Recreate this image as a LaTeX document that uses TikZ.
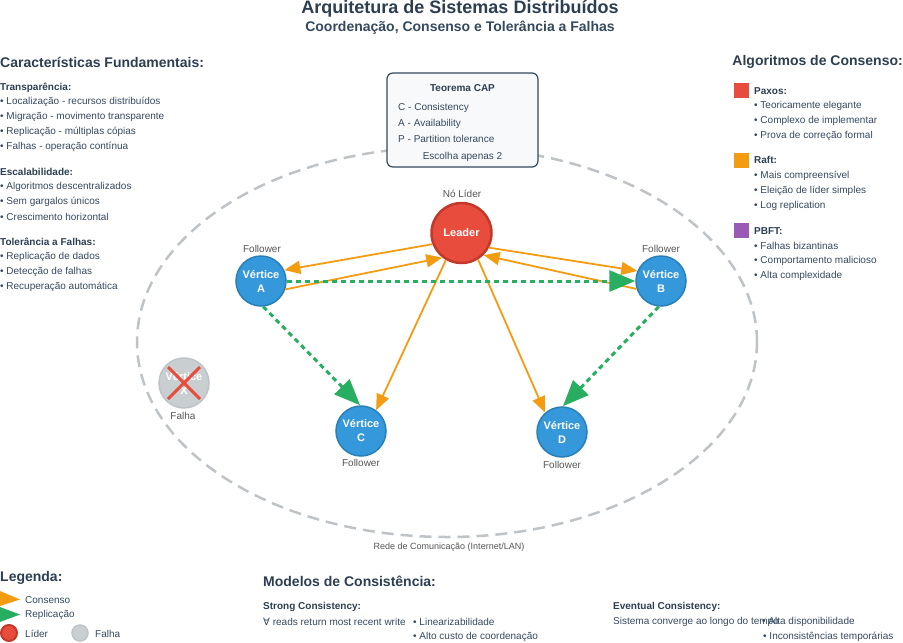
\documentclass[tikz,border=0pt]{standalone}
\usepackage{fontspec}
\setmainfont{Liberation Sans}
\newfontfamily\symfont{DejaVu Sans}
\usetikzlibrary{arrows.meta,calc}
\definecolor{slate}{HTML}{2C3E50}
\definecolor{slate2}{HTML}{34495E}
\definecolor{gray5}{HTML}{555555}
\definecolor{lred}{HTML}{E74C3C}
\definecolor{dred}{HTML}{C0392B}
\definecolor{lblue}{HTML}{3498DB}
\definecolor{dblue}{HTML}{2980B9}
\definecolor{orng}{HTML}{F39C12}
\definecolor{grn}{HTML}{27AE60}
\definecolor{purp}{HTML}{9B59B6}
\definecolor{lgray}{HTML}{BDC3C7}
\definecolor{xgray}{HTML}{C9CFD1}
\definecolor{capfill}{HTML}{F8F9FA}
\pgfdeclarelayer{bg}
\pgfsetlayers{bg,main}
\begin{document}
\begin{tikzpicture}[x=1pt,y=-1pt,
  ttl/.style={font=\fontsize{18}{22}\selectfont\bfseries,text=slate,inner sep=0pt},
  subttl/.style={font=\fontsize{14}{17}\selectfont\bfseries,text=slate2,inner sep=0pt},
  sec/.style={anchor=west,inner sep=0pt,font=\fontsize{14}{17}\selectfont\bfseries,text=slate},
  hd/.style={anchor=west,inner sep=0pt,font=\fontsize{10}{12}\selectfont\bfseries,text=slate},
  itm/.style={anchor=west,inner sep=0pt,font=\fontsize{10}{12}\selectfont,text=slate2},
  lab/.style={inner sep=0pt,font=\fontsize{10}{12}\selectfont,text=gray5},
  vert/.style={circle,minimum size=50pt,inner sep=0pt,fill=lblue,draw=dblue,line width=1.5pt,text=white,font=\fontsize{11}{14}\selectfont\bfseries,align=center},
  lead/.style={circle,minimum size=60pt,inner sep=0pt,fill=lred,draw=dred,line width=2.5pt,text=white,font=\fontsize{11}{14}\selectfont\bfseries},
  failv/.style={circle,minimum size=50pt,inner sep=0pt,fill=xgray,draw=lgray,line width=1.5pt,text=white,font=\fontsize{11}{14}\selectfont\bfseries,align=center},
  cons/.style={draw=orng,line width=1.8pt,-{Triangle[length=16pt,width=13pt]}},
  repl/.style={draw=grn,line width=3pt,dash pattern=on 5pt off 4pt,-{Triangle[length=26pt,width=21pt]}},
  xcross/.style={draw=lred,line width=3pt},
  net/.style={draw=lgray,line width=2.5pt,dash pattern=on 12pt off 7pt},
  capbox/.style={draw=slate2,fill=capfill,rounded corners=6pt,line width=1.2pt,minimum width=151pt,minimum height=94pt,inner sep=0pt},
  sq/.style={minimum size=15pt,inner sep=0pt}
]
\useasboundingbox (0,0) rectangle (903,643);

% titles
\node[ttl] (title) at (460,9) {Arquitetura de Sistemas Distribuídos};
\node[subttl] (subtitle) at (460,28) {Coordenação, Consenso e Tolerância a Falhas};

% left panel
\node[sec] (cf) at (0,62) {Características Fundamentais:};
\node[hd] (h1) at (0,88) {Transparência:};
\node[itm] (h1a) at (0,102) {• Localização - recursos distribuídos};
\node[itm] (h1b) at (0,117) {• Migração - movimento transparente};
\node[itm] (h1c) at (0,132) {• Replicação - múltiplas cópias};
\node[itm] (h1d) at (0,147) {• Falhas - operação contínua};
\node[hd] (h2) at (0,172) {Escalabilidade:};
\node[itm] (h2a) at (0,187) {• Algoritmos descentralizados};
\node[itm] (h2b) at (0,202) {• Sem gargalos únicos};
\node[itm] (h2c) at (0,217) {• Crescimento horizontal};
\node[hd] (h3) at (0,242) {Tolerância a Falhas:};
\node[itm] (h3a) at (0,257) {• Replicação de dados};
\node[itm] (h3b) at (0,272) {• Detecção de falhas};
\node[itm] (h3c) at (0,287) {• Recuperação automática};

% right panel
\node[sec,anchor=east] (ac) at (903,62) {Algoritmos de Consenso:};
\node[sq,fill=lred] (sqp) at (741.5,90) {};
\node[hd] (px) at (754,91) {Paxos:};
\node[itm] (pxa) at (754,106) {• Teoricamente elegante};
\node[itm] (pxb) at (754,121) {• Complexo de implementar};
\node[itm] (pxc) at (754,136) {• Prova de correção formal};
\node[sq,fill=orng] (sqr) at (741.5,160) {};
\node[hd] (rf) at (754,160) {Raft:};
\node[itm] (rfa) at (754,176) {• Mais compreensível};
\node[itm] (rfb) at (754,191) {• Eleição de líder simples};
\node[itm] (rfc) at (754,206) {• Log replication};
\node[sq,fill=purp] (sqb) at (741.5,230) {};
\node[hd] (pb) at (754,231) {PBFT:};
\node[itm] (pba) at (754,246) {• Falhas bizantinas};
\node[itm] (pbb) at (754,261) {• Comportamento malicioso};
\node[itm] (pbc) at (754,276) {• Alta complexidade};

% network ellipse
\begin{pgfonlayer}{bg}
\draw[net] (447,342) ellipse [x radius=310pt, y radius=195pt];
\end{pgfonlayer}
\node[lab,font=\fontsize{9}{11}\selectfont] (rede) at (449,547) {Rede de Comunicação (Internet/LAN)};

% CAP box
\node[capbox] (cap) at (462.5,120) {};
\node[hd,anchor=center] (capt) at (462.5,88) {Teorema CAP};
\node[itm] (capc) at (398,108) {C - Consistency};
\node[itm] (capa) at (398,124) {A - Availability};
\node[itm] (capp) at (398,139) {P - Partition tolerance};
\node[itm,anchor=center] (cape) at (462.5,157) {Escolha apenas 2};

% nodes
\node[lead] (L) at (461.5,233) {Leader};
\node[lab] (lL) at (462,194) {Nó Líder};
\node[vert] (A) at (261,281) {Vértice\\A};
\node[lab] (lA) at (262,249) {Follower};
\node[vert] (B) at (661,281) {Vértice\\B};
\node[lab] (lB) at (661,249) {Follower};
\node[vert] (C) at (361,431) {Vértice\\C};
\node[lab] (lC) at (361,463) {Follower};
\node[vert] (D) at (562,432) {Vértice\\D};
\node[lab] (lD) at (562,465) {Follower};
\node[failv] (X) at (184,383) {Vértice\\X};
\node[lab] (lX) at (183,416) {Falha};
\draw[xcross] ($(X.center)+(-16,-16)$) -- ($(X.center)+(16,16)$);
\draw[xcross] ($(X.center)+(16,-16)$) -- ($(X.center)+(-16,16)$);

% consensus arrows
\draw[cons] (L.201) -- (A.25);
\draw[cons] (A.-19) -- (L.232);
\draw[cons] (L.332) -- (B.157);
\draw[cons] (B.198) -- (L.315);
\draw[cons] (L.240) -- (C.54);
\draw[cons] (L.302) -- (D.131);

% replication arrows
\draw[repl] (A.0) -- (B.180);
\draw[repl] (A.-85) -- (C.92);
\draw[repl] (B.-95) -- (D.88);

% legend
\node[sec] (leg) at (0,578) {Legenda:};
\fill[orng] (0,591) -- (20,599.5) -- (0,606) -- cycle;
\node[itm] (lg1) at (25,600) {Consenso};
\fill[grn] (0,607) -- (20,614.5) -- (0,622) -- cycle;
\node[itm] (lg2) at (25,615) {Replicação};
\node[circle,minimum size=16pt,inner sep=0pt,fill=lred,draw=dred,line width=2pt] (lgL) at (9,633) {};
\node[itm] (lg3) at (25,634) {Líder};
\node[circle,minimum size=16pt,inner sep=0pt,fill=xgray,draw=lgray,line width=1.5pt] (lgF) at (80,633) {};
\node[itm] (lg4) at (95,634) {Falha};

% consistency models
\node[sec] (mc) at (263,581) {Modelos de Consistência:};
\node[hd] (sc) at (263,607) {Strong Consistency:};
\node[itm] (sc1) at (263,622) {{\symfont ∀} reads return most recent write};
\node[itm] (sc2) at (413,622) {• Linearizabilidade};
\node[itm] (sc3) at (413,637) {• Alto custo de coordenação};
\node[hd] (ec) at (613,607) {Eventual Consistency:};
\node[itm] (ec1) at (613,622) {Sistema converge ao longo do tempo};
\node[itm] (ec2) at (762,622) {• Alta disponibilidade};
\node[itm] (ec3) at (763,637) {• Inconsistências temporárias};
\end{tikzpicture}
\end{document}
